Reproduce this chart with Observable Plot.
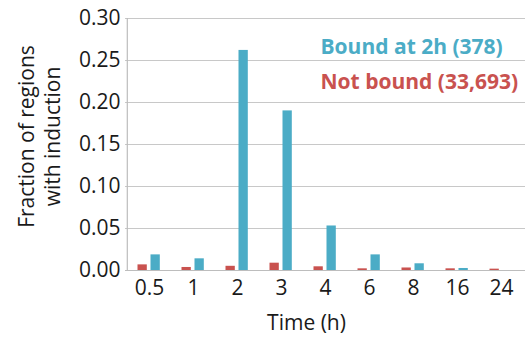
<!DOCTYPE html>
<html>
<head>
<meta charset="utf-8">
<script src="https://cdn.jsdelivr.net/npm/d3@7"></script>
<script src="https://cdn.jsdelivr.net/npm/@observablehq/plot@0.6"></script>
<style>
  html, body { margin: 0; padding: 0; background: #fff; }
  #chart svg { display: block; }
</style>
</head>
<body>
<div id="chart"></div>
<script>
const times = ["0.5", "1", "2", "3", "4", "6", "8", "16", "24"];
const boundAt2h = [0.0186, 0.0139, 0.262, 0.190, 0.053, 0.0186, 0.008, 0.0024, 0.0];
const notBound = [0.0067, 0.0036, 0.005, 0.0087, 0.0044, 0.002, 0.003, 0.002, 0.0016];
const seriesNames = ["Bound at 2h (378)", "Not bound (33,693)"];
const yTicks = [0, 0.05, 0.10, 0.15, 0.20, 0.25, 0.30];

const blue = "#4bacc6";
const red = "#c9524f";
const font = "'Open Sans', 'Noto Sans', sans-serif";

const redRows = times.map((t, i) => ({time: t, value: notBound[i]}));
const blueRows = times.map((t, i) => ({time: t, value: boundAt2h[i]}));

const chart = Plot.plot({
  width: 526,
  height: 343,
  marginLeft: 125,
  marginRight: 1,
  marginTop: 18,
  marginBottom: 73,
  style: {fontFamily: font, fontSize: "21px", color: "#1a1a1a", background: "#fff"},
  x: {domain: times, padding: 0, label: null},
  y: {domain: [0, 0.30], ticks: yTicks, label: null},
  marks: [
    Plot.gridY(yTicks, {stroke: "#c8c8c8", strokeOpacity: 1, strokeWidth: 1}),
    Plot.axisY(yTicks, {tickSize: 0, tickPadding: 5, tickFormat: d3.format(".2f"), label: null, fontSize: 21}),
    Plot.axisX({tickSize: 0, tickPadding: 10, label: null, fontSize: 21}),
    Plot.barY(redRows, {x: "time", y: "value", fill: red, insetLeft: 10.5, insetRight: 24.2}),
    Plot.barY(blueRows, {x: "time", y: "value", fill: blue, insetLeft: 23.5, insetRight: 11.2}),
    Plot.ruleY([0], {stroke: "#bdbdbd", strokeWidth: 1.2}),
    Plot.ruleX([times[0]], {dx: -22.2, stroke: "#bdbdbd", strokeWidth: 1.2}),
    Plot.text([seriesNames[0]], {frameAnchor: "top-left", text: d => d, dx: 195, dy: 21, fill: blue, fontWeight: "bold", fontSize: 21, textAnchor: "start"}),
    Plot.text([seriesNames[1]], {frameAnchor: "top-left", text: d => d, dx: 195, dy: 56, fill: red, fontWeight: "bold", fontSize: 21, textAnchor: "start"}),
    Plot.text(["Time (h)"], {frameAnchor: "bottom", text: d => d, dx: -19, dy: 59, fontSize: 21, fill: "#1a1a1a"}),
    Plot.text(["Fraction of regions"], {frameAnchor: "left", text: d => d, rotate: -90, textAnchor: "middle", dx: -98, dy: -8, fontSize: 21, fill: "#1a1a1a"}),
    Plot.text(["with induction"], {frameAnchor: "left", text: d => d, rotate: -90, textAnchor: "middle", dx: -72, dy: -8, fontSize: 21, fill: "#1a1a1a"})
  ]
});
document.getElementById("chart").appendChild(chart);
</script>
</body>
</html>
